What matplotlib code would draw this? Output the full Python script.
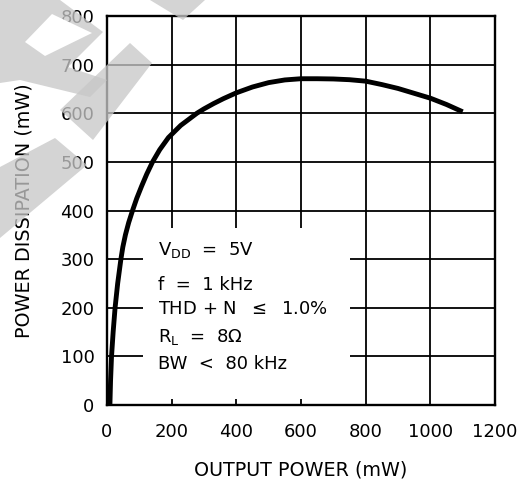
import numpy as np
import matplotlib
matplotlib.use("Agg")
import matplotlib.pyplot as plt
from matplotlib.patches import Rectangle, Polygon

# curve (output power mW, dissipation mW)
out_power = [9, 11, 14, 19, 25, 33, 43, 49, 57, 67, 79, 92, 107, 123, 141, 163, 190, 228, 278,
             300, 330, 360, 400, 450, 500, 550, 600, 650, 700, 750, 800, 850, 900, 950, 1000, 1050, 1100]
dissipation = [0, 50, 100, 150, 200, 250, 300, 325, 350, 375, 400, 425, 450, 475, 500, 525, 550, 575, 600,
               609, 620, 630, 642, 654, 663, 668.5, 671, 671, 670.5, 669, 666, 659, 651, 641, 631, 618, 603]

x_ticks = [0, 200, 400, 600, 800, 1000, 1200]
y_ticks = [0, 100, 200, 300, 400, 500, 600, 700, 800]

notes = [r"V$_{\mathregular{DD}}$  =  5V",
         "f  =  1 kHz",
         r"THD + N  $\leq$  1.0%",
         r"R$_{\mathregular{L}}$  =  8$\Omega$",
         "BW  <  80 kHz"]
note_y = [319, 247, 198, 140, 84]

plt.rcParams['font.family'] = ['DejaVu Sans']
plt.rcParams['mathtext.fontset'] = 'dejavusans'

W, H = 530, 484
fig = plt.figure(figsize=(W / 100, H / 100), dpi=100)
ax = fig.add_axes([107 / W, 1 - 405 / H, 388 / W, 389 / H])

ax.set_xlim(0, 1200)
ax.set_ylim(0, 800)
ax.set_xticks(x_ticks)
ax.set_yticks(y_ticks)
ax.tick_params(length=0, labelsize=13, pad=9)
ax.tick_params(axis='x', pad=13)
ax.set_axisbelow(True)
ax.grid(True, color='black', lw=1.3)
for s in ax.spines.values():
    s.set_linewidth(1.7)

# white box behind the conditions text
ax.add_patch(Rectangle((111, 12), 640, 352, facecolor='white', edgecolor='none', zorder=1))

ax.plot(out_power, dissipation, color='black', lw=3.5, solid_capstyle='butt',
        solid_joinstyle='round', zorder=3)

for t, yy in zip(notes, note_y):
    ax.text(158, yy, t, fontsize=13, va='center', ha='left', zorder=4)

fig.text(301 / W, 1 - 470 / H, "OUTPUT POWER (mW)", fontsize=13.8, ha='center', va='center')
fig.text(24 / W, 1 - 211 / H, "POWER DISSIPATION (mW)", fontsize=13.8, ha='center', va='center',
         rotation=90)

# faint watermark in the upper left corner (figure pixel coords)
def px(pts):
    return [(x / W, 1 - y / H) for x, y in pts]

wm = [
    [(0, 0), (60, 0), (103, 32), (68, 67), (107, 80), (90, 97), (20, 80), (0, 83)],
    [(130, 43), (152, 63), (93, 140), (60, 110)],
    [(150, 0), (205, 0), (183, 20)],
    [(0, 167), (55, 138), (87, 165), (0, 238)],
]
for p in wm:
    fig.add_artist(Polygon(px(p), closed=True, transform=fig.transFigure,
                           facecolor=(0.78, 0.78, 0.78), edgecolor='none', alpha=0.77, zorder=10))
fig.add_artist(Polygon(px([(25, 42), (52, 14), (92, 33), (45, 56)]), closed=True,
                       transform=fig.transFigure, facecolor='white', edgecolor='none', zorder=11))

fig.savefig("out.png", dpi=100)
